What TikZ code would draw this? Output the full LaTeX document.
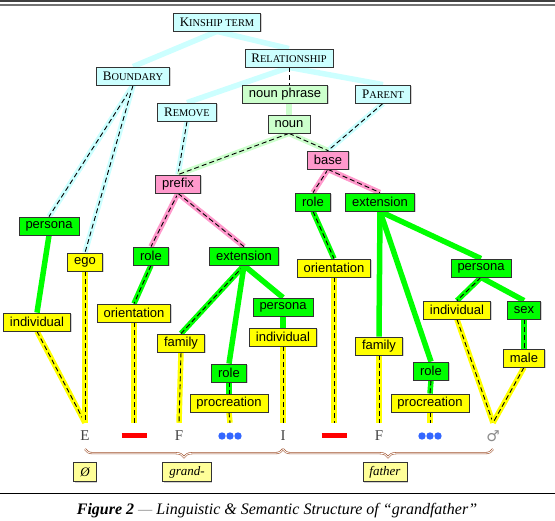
\documentclass[tikz,border=0pt]{standalone}
\usepackage{fontspec}
\setmainfont{Liberation Serif}
\setsansfont{Liberation Sans}
\newfontfamily\symfont{DejaVu Sans}
\usepackage{tikz}
\usetikzlibrary{shadows, backgrounds, decorations.pathreplacing}
\definecolor{cyF}{HTML}{CCFFFF}
\definecolor{lgF}{HTML}{CCFFCC}
\definecolor{pkF}{HTML}{FF99CC}
\definecolor{gnF}{HTML}{00FF00}
\definecolor{ylF}{HTML}{FFFF00}
\definecolor{lbF}{HTML}{FFFF99}
\definecolor{bdr}{HTML}{333333}
\definecolor{brc}{HTML}{A0522D}
\definecolor{dotB}{HTML}{3366FF}
\definecolor{barR}{HTML}{FF0000}
\definecolor{symG}{HTML}{444444}
% capital + reduced capitals (small-caps look)
\newcommand{\ksc}[2]{#1{\fontsize{10.4}{12}\selectfont #2}}
\tikzset{
  % boxes of the tree
  B/.style={draw=bdr, line width=0.8pt, minimum height=18pt,
    inner xsep=6.5pt, inner ysep=0pt,
    font=\fontsize{13}{15}\selectfont\sffamily,
    drop shadow={shadow xshift=1.3pt, shadow yshift=-1.3pt, fill=black!35}},
  CY/.style={B, fill=cyF, font=\fontsize{13}{15}\selectfont\rmfamily},  % concept (small caps)
  LG/.style={B, fill=lgF},   % noun phrase / noun
  PK/.style={B, fill=pkF},   % prefix / base
  GN/.style={B, fill=gnF},   % semantic features
  YL/.style={B, fill=ylF},   % values
  LB/.style={B, fill=lbF, minimum height=19pt,
    font=\fontsize{13}{15}\selectfont\rmfamily\itshape},  % morph labels
  sym/.style={minimum height=26pt, minimum width=25pt, inner sep=0pt,
    font=\fontsize{15}{15}\selectfont\rmfamily, text=symG},
  % connectors
  Ln/.style={draw=#1, line width=5.5pt},
  Ld/.style={preaction={draw=#1, line width=5.5pt, solid},
    draw=black, line width=0.9pt, dash pattern=on 5pt off 3pt},
  Dd/.style={draw=black, line width=0.9pt, dash pattern=on 5pt off 3pt},
  Br/.style={decorate, decoration={brace, amplitude=8pt, mirror},
    draw=brc, line width=0.6pt, double=white, double distance=0.9pt},
}

\begin{document}
\begin{tikzpicture}[x=1pt, y=-1pt]
\useasboundingbox (0,0) rectangle (555,521);

% ── rules ────────────────────────────────────────────────────────────
\draw[line width=2pt, black!75] (0,1) -- (555,1);
\draw[line width=2pt, black!55] (0,5.5) -- (555,5.5);
\draw[line width=0.8pt] (0,493) -- (555,493);

% =====================================================================
% UPPER TREE
% =====================================================================
\node[CY] (kin) at (217,22) {\ksc{K}{INSHIP TERM}};
\node[CY] (rel) at (289,58) {\ksc{R}{ELATIONSHIP}};
\node[CY] (bnd) at (133,76) {\ksc{B}{OUNDARY}};
\node[LG] (nph) at (285,94) {noun phrase};
\node[CY] (par) at (383,94) {\ksc{P}{ARENT}};
\node[CY] (rem) at (187,112) {\ksc{R}{EMOVE}};
\node[LG] (nou) at (289,124) {noun};
\node[PK] (bas) at (328,160) {base};
\node[PK] (pre) at (178,184) {prefix};

% ── prefix side ──────────────────────────────────────────────────────
\node[GN] (perL) at (49,226) {persona};
\node[YL] (ego) at (85,262) {ego};
\node[GN] (rolL) at (151,256) {role};
\node[GN] (extL) at (244,256) {extension};
\node[YL] (oriL) at (134,313) {orientation};
\node[YL] (indL) at (37,322) {individual};
\node[YL] (famL) at (181,343) {family};
\node[GN] (perM) at (283,307) {persona};
\node[YL] (indM) at (283,337) {individual};
\node[GN] (rolM) at (229,373) {role};
\node[YL] (prcM) at (229,403) {procreation};

% ── base side ────────────────────────────────────────────────────────
\node[GN] (rolR) at (313,202) {role};
\node[GN] (extR) at (380,202) {extension};
\node[YL] (oriR) at (334,268) {orientation};
\node[GN] (perR) at (481,268) {persona};
\node[YL] (indR) at (457,310) {individual};
\node[GN] (sex) at (524,310) {sex};
\node[YL] (famR) at (379,346) {family};
\node[YL] (mal) at (524,358) {male};
\node[GN] (rolS) at (431,371) {role};
\node[YL] (prcR) at (430,403) {procreation};

% =====================================================================
% BOTTOM ROW  (symbols, braces, morphs)
% =====================================================================
\node[sym] (sE) at (85,436) {E};
\node[sym] (sB1) at (134,436) {\textcolor{barR}{\rule{25pt}{5pt}}};
\node[sym] (sF1) at (179,436) {F};
\node[sym] (sD1) at (230,436) {};
\node[sym] (sI) at (283,436) {I};
\node[sym] (sB2) at (334,436) {\textcolor{barR}{\rule{25pt}{5pt}}};
\node[sym] (sF2) at (379,436) {F};
\node[sym] (sD2) at (430,436) {};
\node[sym, font=\fontsize{15}{15}\selectfont\symfont, text=black!45] (sM) at (493,436) {♂};
\foreach \n in {sD1,sD2}
  \foreach \dx in {-8,0,8}
    \fill[dotB] ([xshift=\dx pt]\n.center) circle (3.7pt);

\draw[Br] (sE.south) -- (sI.south);
\draw[Br] (sI.south) -- (sM.south);

\node[LB] (mZ) at (85,472) {Ø};
\node[LB] (mG) at (187,472) {grand-};
\node[LB] (mF) at (385,472) {father};

% ── caption ──────────────────────────────────────────────────────────
\node[font=\fontsize{16}{18}\selectfont\rmfamily\itshape] (cap) at (277,511)
  {\textbf{Figure 2} \textcolor{black!45}{---} Linguistic \& Semantic Structure of “grandfather”};

% =====================================================================
% CONNECTORS (behind the boxes)
% =====================================================================
\begin{scope}[on background layer]
% cyan
\draw[Ln=cyF] (kin.south) -- (bnd.north);
\draw[Ln=cyF] (kin.south) -- (rel.north);
\draw[Ln=cyF] (rel.south) -- (rem.north);
\draw[Ln=cyF] (rel.south) -- (par.north);
\draw[Dd] (rel.south) -- (rel.south |- nph.north);
\draw[Ld=cyF] (bnd.south) -- (perL.north);
\draw[Ld=cyF] (bnd.south) -- (ego.north);
\draw[Ld=cyF] (rem.south) -- (pre.north);
\draw[Ld=cyF] (par.south) -- (bas.north);
% light green
\draw[Ln=lgF] (nou.north |- nph.south) -- (nou.north);
\draw[Ld=lgF] (nou.south) -- (pre.north);
\draw[Ld=lgF] (nou.south) -- (bas.north);
% pink
\draw[Ld=pkF] (pre.south) -- (rolL.north);
\draw[Ld=pkF] (pre.south) -- (extL.north);
\draw[Ld=pkF] (bas.south) -- (rolR.north);
\draw[Ld=pkF] (bas.south) -- (extR.north);
% green
\draw[Ln=gnF] (perL.south) -- (indL.north);
\draw[Ld=gnF] (rolL.south) -- (oriL.north);
\draw[Ld=gnF] (extL.south) -- (famL.north);
\draw[Ln=gnF] (extL.south) -- (rolM.north);
\draw[Ln=gnF] (extL.south) -- (perM.north);
\draw[Ln=gnF] (perM.south) -- (indM.north);
\draw[Ld=gnF] (rolM.south) -- (prcM.north);
\draw[Ld=gnF] (rolR.south) -- (oriR.north);
\draw[Ln=gnF] (extR.south) -- (famR.north);
\draw[Ln=gnF] (extR.south) -- (rolS.north);
\draw[Ln=gnF] (extR.south) -- (perR.north);
\draw[Ld=gnF] (perR.south) -- (indR.north);
\draw[Ln=gnF] (perR.south) -- (sex.north);
\draw[Ld=gnF] (sex.south) -- (mal.north);
\draw[Ld=gnF] (rolS.south) -- (prcR.north);
% yellow
\draw[Ld=ylF] (indL.south) -- (sE.north);
\draw[Ld=ylF] (ego.south) -- (sE.north);
\draw[Ld=ylF] (oriL.south) -- (sB1.north);
\draw[Ld=ylF] (famL.south) -- (sF1.north);
\draw[Ld=ylF] (prcM.south) -- (sD1.north);
\draw[Ld=ylF] (indM.south) -- (sI.north);
\draw[Ld=ylF] (oriR.south) -- (sB2.north);
\draw[Ld=ylF] (famR.south) -- (sF2.north);
\draw[Ld=ylF] (prcR.south) -- (sD2.north);
\draw[Ld=ylF] (indR.south) -- (sM.north);
\draw[Ld=ylF] (mal.south) -- (sM.north);
\end{scope}

\end{tikzpicture}
\end{document}
